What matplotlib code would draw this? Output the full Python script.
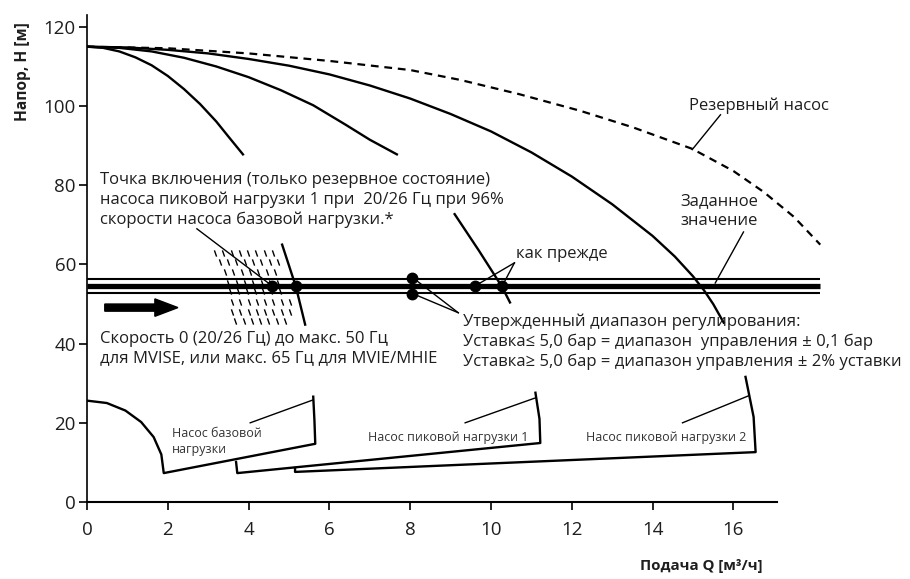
import numpy as np
import matplotlib.pyplot as plt
from matplotlib.path import Path

plt.rcParams['font.family'] = ['Open Sans', 'DejaVu Sans']

# curves: flow Q [m3/h], head H [m]
reserve_q = [0, 2.0, 4.0, 6.0, 8.0, 9.24, 10.7, 12.21, 13.52, 14.98, 16.0, 16.75, 17.5, 18.15]
reserve_h = [115, 114.6, 113.3, 111.4, 109.1, 106.6, 103, 98.8, 94.6, 89.2, 83.6, 78.3, 72.0, 65.0]

base_q = [0, 0.4, 0.8, 1.2, 1.6, 2.0, 2.4, 2.8, 3.2, 3.5, 3.86]
base_h = [115, 114.7, 113.8, 112.3, 110.3, 107.6, 104.3, 100.5, 96.1, 92.3, 87.8]
base2_q = [4.83, 5.17, 5.4]
base2_h = [65, 54.4, 44.8]

peak1_q = [0, 0.8, 1.6, 2.4, 3.2, 4.0, 4.8, 5.6, 6.4, 7.0, 7.67]
peak1_h = [115, 114.7, 113.8, 112.2, 110, 107.3, 104, 100.2, 95.3, 91.5, 87.8]
peak1b_q = [9.1, 9.7, 10.27, 10.47]
peak1b_h = [72.7, 63.5, 54.4, 50.4]

peak2_q = [0, 1, 2, 3, 4, 5, 6, 7, 8, 9, 10, 11, 12, 13, 14, 14.55, 15.0, 15.27, 15.5, 15.76]
peak2_h = [115, 114.8, 114.2, 113.3, 111.9, 110.2, 108, 105.2, 101.9, 98, 93.6, 88.3, 82.2, 75.2, 67.2,
           62.0, 57.0, 53.5, 50.0, 45.3]

# minimum speed outlines (lower part)
low_base_q = [0, 0.49, 0.95, 1.34, 1.65, 1.84, 1.9, 5.65, 5.63, 5.6]
low_base_h = [25.6, 25.0, 23.1, 20.2, 16.4, 12.0, 7.3, 14.7, 20.5, 26.6]
low_p1_q = [3.69, 3.72, 11.22, 11.2, 11.1]
low_p1_h = [10.1, 7.3, 14.9, 21, 27.6]
low_p2_q = [5.15, 5.15, 16.55, 16.5, 16.3]
low_p2_h = [8.6, 7.6, 12.6, 21.5, 31.6]

# setpoint band
band_h = [56.4, 54.6, 52.8]
band_w = [1.5, 3.8, 1.5]
band_end = 18.15

dots_q = [4.58, 5.17, 8.04, 8.04, 9.6, 10.27]
dots_h = [54.6, 54.6, 56.6, 52.6, 54.6, 54.6]

# speed range hatch rows
hatch_h = [63, 60.5, 58, 55.4, 53.2, 50.6, 48.1, 45.6]
hatch_left = [3.17, 3.29, 3.42, 3.5, 3.54, 3.59, 3.59, 3.67]
hatch_right = [4.71, 4.73, 4.78, 4.85, 4.9, 5.03, 5.03, 5.08]

fig = plt.figure(figsize=(9.1, 5.79), dpi=100)
ax = fig.add_axes([87 / 910, 1 - 502 / 579, 808 / 910, 487 / 579])
ax.set_xlim(0, 20)
ax.set_ylim(0, 123)

lw = 1.7
ax.plot(reserve_q, reserve_h, color='black', lw=1.6, dashes=(3.5, 2.6))
for qs, hs in [(base_q, base_h), (base2_q, base2_h), (peak1_q, peak1_h), (peak1b_q, peak1b_h),
               (peak2_q, peak2_h), (low_base_q, low_base_h), (low_p1_q, low_p1_h),
               (low_p2_q, low_p2_h)]:
    ax.plot(qs, hs, color='black', lw=lw)

for h, w in zip(band_h, band_w):
    ax.plot([0, band_end], [h, h], color='black', lw=w, solid_capstyle='butt', zorder=3)

# short slanted strokes for the hatch
stroke = Path([(-0.35, 1), (0.35, -1)], [Path.MOVETO, Path.LINETO])
for h, a, b in zip(hatch_h, hatch_left, hatch_right):
    qs = np.arange(a, b, 0.205)
    ax.plot(qs, [h] * len(qs), ls='none', marker=stroke, ms=4.5, mec='black', mew=1.0, zorder=2)

ax.plot(dots_q, dots_h, 'o', color='black', ms=7.5, zorder=5)

ax.arrow(0.44, 49.1, 1.81, 0, width=1.8, head_width=4.4, head_length=0.57,
         length_includes_head=True, color='black', zorder=4)

# leader lines
leaders = [
    ([2.72, 4.58], [69.0, 54.6]),
    ([10.58, 9.61], [60.4, 54.6]),
    ([10.58, 10.28], [60.4, 54.6]),
    ([9.19, 8.07], [47.8, 56.6]),
    ([9.19, 8.07], [47.8, 52.6]),
    ([15.68, 14.98], [97.8, 89.0]),
    ([16.25, 15.55], [68.2, 55.3]),
    ([4.04, 5.6], [20.0, 25.8]),
    ([9.36, 11.1], [20.0, 26.3]),
    ([14.74, 16.37], [20.0, 26.8]),
]
for xs, ys in leaders:
    ax.plot(xs, ys, color='black', lw=1.0, zorder=4)

fs = 12
tc = '#1e1e1e'
ax.text(0.32, 76.3, 'Точка включения (только резервное состояние)\n'
        'насоса пиковой нагрузки 1 при  20/26 Гц при 96%\n'
        'скорости насоса базовой нагрузки.*', fontsize=fs, va='center', ha='left',
        linespacing=1.3, color=tc)
ax.text(0.32, 38.7, 'Скорость 0 (20/26 Гц) до макс. 50 Гц\n'
        'для MVISE, или макс. 65 Гц для MVIE/MHIE', fontsize=fs, va='center', ha='left',
        linespacing=1.3, color=tc)
ax.text(9.31, 40.4, 'Утвержденный диапазон регулирования:\n'
        'Уставка≤ 5,0 бар = диапазон  управления ± 0,1 бар\n'
        'Уставка≥ 5,0 бар = диапазон управления ± 2% уставки', fontsize=fs, va='center',
        ha='left', linespacing=1.3, color=tc)
ax.text(10.63, 62.7, 'как прежде', fontsize=fs, va='center', ha='left', color=tc)
ax.text(14.89, 100, 'Резервный насос', fontsize=fs, va='center', ha='left', color=tc)
ax.text(14.69, 73.5, 'Заданное\nзначение', fontsize=fs, va='center', ha='left',
        linespacing=1.3, color=tc)

ax.text(2.1, 15.3, 'Насос базовой\nнагрузки', fontsize=9, va='center', ha='left',
        linespacing=1.25, color='#333333')
ax.text(8.95, 16.4, 'Насос пиковой нагрузки 1', fontsize=9, va='center', ha='center',
        color='#333333')
ax.text(14.34, 16.4, 'Насос пиковой нагрузки 2', fontsize=9, va='center', ha='center',
        color='#333333')

# axes styling
for s in ['top', 'right']:
    ax.spines[s].set_visible(False)
ax.spines['bottom'].set_bounds(0, 17.09)
ax.spines['left'].set_bounds(0, 123)
ax.spines['bottom'].set_linewidth(1.5)
ax.spines['left'].set_linewidth(1.2)
ax.set_xticks(np.arange(0, 17, 2))
ax.set_yticks(np.arange(0, 121, 20))
ax.tick_params(axis='x', length=6, width=1.2, pad=8, labelsize=13.5, labelcolor=tc)
ax.tick_params(axis='y', length=6, width=1.2, pad=2, labelsize=13.5, labelcolor=tc)

fig.text(23 / 910, 1 - 72 / 579, 'Напор, H [м]', rotation=90, ha='center', va='center',
         fontsize=11.2, fontweight='bold', color=tc)
fig.text(701 / 910, 1 - 566 / 579, 'Подача Q [м³/ч]', ha='center', va='center',
         fontsize=10.8, fontweight='bold', color=tc)

fig.savefig('out.png', dpi=100)
